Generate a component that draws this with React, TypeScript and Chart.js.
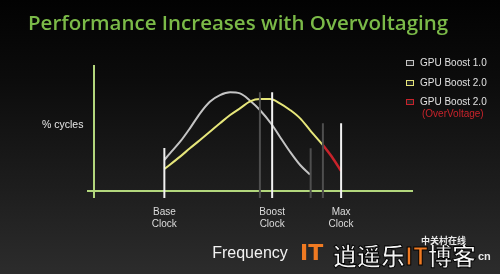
import React, { useEffect, useRef } from "react";
import { Chart, registerables } from "chart.js";

Chart.register(...registerables);

// ---- data (frequency in arbitrary units, % cycles) ----
const CLOCK_TICKS = [20.1, 50.9, 70.6];
const CLOCK_LABELS = [["Base", "Clock"], ["Boost", "Clock"], ["Max", "Clock"]];

const BOOST1_X = [20.1, 21.7, 24.6, 27.4, 30.3, 33.1, 36.0, 38.9, 41.7, 44.6, 47.4, 50.9, 53.1, 56.0, 58.9, 61.7];
const BOOST1_Y = [23.6, 28.6, 37.3, 47.4, 58.7, 67.4, 72.4, 74.5, 73.7, 68.2, 61.2, 49.9, 41.1, 29.8, 19.8, 12.7];

const BOOST2_X = [20.1, 24.6, 27.4, 30.3, 33.1, 36.0, 38.9, 41.7, 44.6, 47.4, 50.3, 53.1, 56.0, 58.9, 61.7, 65.4];
const BOOST2_Y = [16.8, 26.1, 32.4, 38.6, 44.8, 51.2, 57.4, 62.4, 67.6, 69.4, 69.4, 66.2, 61.2, 54.9, 46.1, 34.8];

const OV_X = [65.4, 68.0, 70.6];
const OV_Y = [34.8, 25.8, 15.2];

const MARKER_X = [20.1, 47.4, 50.9, 61.9, 65.4, 70.6];
const MARKER_TOP = [32.6, 74.5, 74.5, 32.4, 51.2, 51.2];
const MARKER_BRIGHT = [true, false, true, false, false, true];

const LEGEND_LABELS = ["GPU Boost 1.0", "GPU Boost 2.0", "GPU Boost 2.0"];
const LEGEND_COLORS = ["#c4c4c4", "#e6e67a", "#c8232b"];

const X_MIN = -2;
const X_MAX = 91.14;
const Y_MIN = -5;
const Y_MAX = 95;

const GREEN = "#b2d67c";
const FONT = "'Liberation Sans', Arial, sans-serif";

function pts(xs: number[], ys: number[]) {
  return xs.map((x, i) => ({ x, y: ys[i] }));
}

export default function App() {
  const ref = useRef<HTMLCanvasElement | null>(null);

  useEffect(() => {
    if (!ref.current) return;
    const markerSets = MARKER_X.map((x, i) => ({
      data: [
        { x, y: Y_MIN },
        { x, y: MARKER_TOP[i] },
      ],
      borderColor: MARKER_BRIGHT[i] ? "#f2f2f2" : "#4e4e4e",
      borderWidth: 2,
      pointRadius: 0,
      tension: 0,
      borderCapStyle: "butt" as const,
    }));
    const chart = new Chart(ref.current, {
      type: "line",
      data: {
        datasets: [
          ...markerSets,
          {
            data: pts(OV_X, OV_Y),
            borderColor: "#c8232b",
            borderWidth: 2.5,
            pointRadius: 0,
            tension: 0.3,
          },
          {
            data: pts(BOOST2_X, BOOST2_Y),
            borderColor: "#e6e67a",
            borderWidth: 2,
            pointRadius: 0,
            cubicInterpolationMode: "monotone",
          },
          {
            data: pts(BOOST1_X, BOOST1_Y),
            borderColor: "#c4c4c4",
            borderWidth: 2,
            pointRadius: 0,
            cubicInterpolationMode: "monotone",
          },
        ] as any,
      },
      options: {
        animation: false,
        responsive: false,
        maintainAspectRatio: false,
        events: [],
        layout: { padding: { left: 87, right: 87, top: 65, bottom: 0 } },
        plugins: {
          legend: { display: false },
          tooltip: { enabled: false },
        },
        scales: {
          x: {
            type: "linear",
            min: X_MIN,
            max: X_MAX,
            afterBuildTicks: (s: any) => {
              s.ticks = [0, ...CLOCK_TICKS].map((v) => ({ value: v }));
            },
            afterFit: (s: any) => {
              s.height = 76;
            },
            border: { display: false },
            grid: {
              drawTicks: false,
              lineWidth: 2,
              color: (c: any) => (c.tick && c.tick.value === 0 ? GREEN : "rgba(0,0,0,0)"),
            },
            ticks: {
              autoSkip: false,
              maxRotation: 0,
              padding: 8,
              color: "#dcdcdc",
              font: { family: FONT, size: 10 },
              callback: (v: any) => {
                const i = CLOCK_TICKS.indexOf(Number(v));
                return i >= 0 ? CLOCK_LABELS[i] : "";
              },
            },
            title: {
              display: true,
              text: "Frequency",
              color: "#f2f2f2",
              font: { family: FONT, size: 16 },
              padding: { top: 0, bottom: 11 },
            },
          },
          y: {
            type: "linear",
            min: Y_MIN,
            max: Y_MAX,
            afterBuildTicks: (s: any) => {
              s.ticks = [{ value: 0 }];
            },
            afterFit: (s: any) => {
              s.width = 0;
            },
            border: { display: false },
            grid: { drawTicks: false, lineWidth: 2, color: GREEN },
            ticks: { display: false },
          },
        },
      } as any,
    });
    return () => chart.destroy();
  }, []);

  const legendTops = [63, 83, 102];

  return (
    <div
      style={{
        position: "fixed",
        left: 0,
        top: 0,
        width: 500,
        height: 274,
        overflow: "hidden",
        background: "linear-gradient(180deg, #020202 0%, #0c0c0c 30%, #1e1e1e 70%, #2c2c2c 100%)",
        fontFamily: FONT,
      }}
    >
      <canvas ref={ref} width={500} height={274} style={{ position: "absolute", left: 0, top: 0, width: 500, height: 274 }} />
      <div
        style={{
          position: "absolute",
          left: 28,
          top: 8,
          fontFamily: "'Open Sans', sans-serif",
          fontWeight: 600,
          fontSize: 20.5,
          lineHeight: "28px",
          color: "#7bba48",
          whiteSpace: "nowrap",
        }}
      >
        Performance Increases with Overvoltaging
      </div>
      <div style={{ position: "absolute", left: 42, top: 117, fontSize: 10.5, lineHeight: "14px", color: "#e6e6e6", whiteSpace: "nowrap" }}>
        % cycles
      </div>
      {LEGEND_LABELS.map((t, i) => (
        <React.Fragment key={i}>
          <div
            style={{
              position: "absolute",
              left: 406,
              top: legendTops[i] - 3.5,
              width: 6,
              height: 4,
              border: `1.5px solid ${LEGEND_COLORS[i]}`,
              background: "#222",
            }}
          />
          <div
            style={{
              position: "absolute",
              left: 420,
              top: legendTops[i] - 7,
              fontSize: 10,
              lineHeight: "14px",
              color: "#e0e0e0",
              whiteSpace: "nowrap",
            }}
          >
            {t}
          </div>
        </React.Fragment>
      ))}
      <div
        style={{ position: "absolute", left: 422, top: 106.5, fontSize: 10, lineHeight: "14px", color: "#c8232b", whiteSpace: "nowrap" }}
      >
        (OverVoltage)
      </div>
      {/* watermark */}
      <div
        style={{
          position: "absolute",
          left: 300,
          top: 240,
          fontFamily: "'DejaVu Sans', sans-serif",
          fontWeight: 700,
          fontSize: 22,
          lineHeight: "26px",
          color: "#f07a22",
        }}
      >
        IT
      </div>
      <div
        style={{
          position: "absolute",
          left: 333,
          top: 241,
          fontFamily: "'Noto Sans CJK SC', sans-serif",
          fontWeight: 700,
          fontSize: 24,
          lineHeight: "28px",
          color: "#f4f4f4",
          WebkitTextStroke: "1px #000",
          whiteSpace: "nowrap",
        }}
      >
        逍遥乐<span style={{ color: "#f07a22" }}>IT</span>博客
      </div>
      <div
        style={{
          position: "absolute",
          left: 421,
          top: 235,
          fontFamily: "'Noto Sans CJK SC', sans-serif",
          fontWeight: 700,
          fontSize: 9,
          lineHeight: "12px",
          color: "#e8e8e8",
          whiteSpace: "nowrap",
        }}
      >
        中关村在线
      </div>
      <div style={{ position: "absolute", left: 478, top: 249, fontWeight: 700, fontSize: 11, lineHeight: "14px", color: "#e8e8e8" }}>cn</div>
    </div>
  );
}
